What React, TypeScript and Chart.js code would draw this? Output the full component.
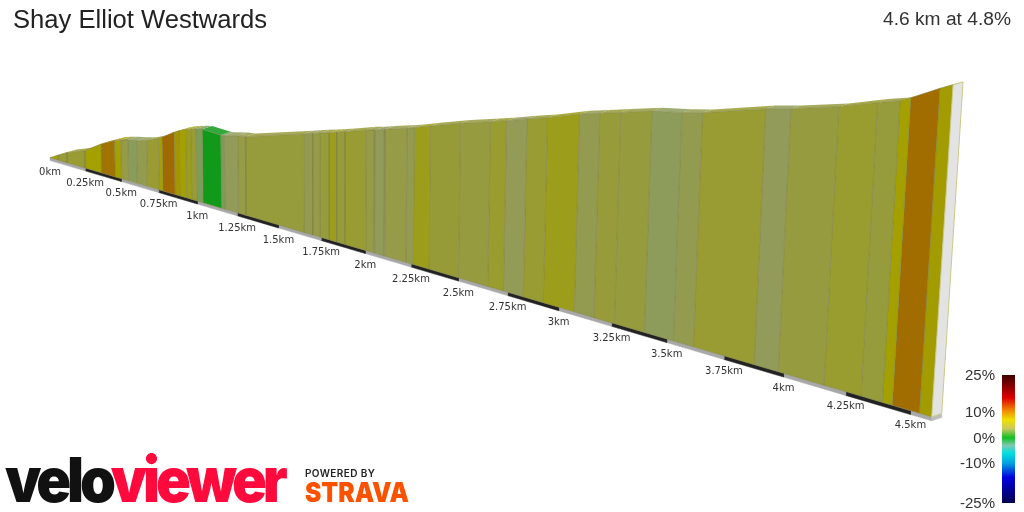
import React, { useEffect, useRef } from 'react';
import { Chart, registerables } from 'chart.js';

Chart.register(...registerables);

// segment boundaries along the climb
const km = [
  0, 0.06, 0.122, 0.249, 0.366, 0.459, 0.501, 0.55, 0.608, 0.676, 0.754, 0.778, 0.857, 0.889, 0.932, 0.965, 0.998, 1.037,
  1.153, 1.175, 1.258, 1.304, 1.651, 1.702, 1.744, 1.797, 1.839, 1.887, 2.003, 2.05, 2.105, 2.223, 2.262, 2.346, 2.5, 2.65,
  2.729, 2.828, 2.926, 3.075, 3.168, 3.263, 3.4, 3.53, 3.618, 3.878, 3.978, 4.164, 4.31, 4.393, 4.431, 4.534, 4.58,
];
// metres above the start at each boundary
const elevation = [
  0, 4.7, 9.2, 15.8, 26.2, 32.7, 34.8, 36.6, 38.2, 40.7, 45.6, 47.4, 54.7, 57.2, 59.7, 61.2, 62.6, 63.8,
  63.0, 63.3, 66.3, 67.1, 82.1, 84.4, 86.3, 88.4, 90.3, 92.5, 98.1, 99.8, 102.4, 107.4, 109.3, 113.7, 121.3, 127.9,
  131.5, 136.4, 140.8, 148.8, 152.7, 156.7, 162.5, 165.9, 168.9, 180.9, 184.4, 192.3, 200.3, 204.3, 207.6, 217.5, 221.2,
];
// percent gradient of each segment
const grade = [
  7, 5, 5, 7, 9.5, 7, 4, 2.5, 3.5, 5, 7, 10, 7.5, 7, 6, 5, 1.5, 0,
  1.5, 3, 4, 4.5, 3.5, 4, 4.5, 6, 4.5, 5, 4, 3, 4, 3.5, 6, 4.8, 4.3, 5.3,
  3.2, 5, 6, 3.5, 4.7, 4.4, 2.7, 3.5, 5, 3, 4.3, 5.3, 4.5, 7, 9.8, 7.2,
];
const tickKm = [0, 0.25, 0.5, 0.75, 1, 1.25, 1.5, 1.75, 2, 2.25, 2.5, 2.75, 3, 3.25, 3.5, 3.75, 4, 4.25, 4.5];
const tickLabels = tickKm.map((k) => `${k}km`);
const totalKm = 4.58;

const legendLabels = ['25%', '10%', '0%', '-10%', '-25%'];

// grade -> wall colour
const gradeStops: [number, number[]][] = [
  [0, [17, 154, 25]],
  [1.5, [122, 158, 90]],
  [3, [146, 155, 90]],
  [4.4, [150, 155, 62]],
  [5.5, [154, 156, 42]],
  [7, [163, 160, 0]],
  [8, [165, 140, 0]],
  [10, [160, 106, 0]],
];

const gradeColor = (g: number, alpha = 1) => {
  let i = 0;
  while (i < gradeStops.length - 2 && g > gradeStops[i + 1][0]) i++;
  const [g0, c0] = gradeStops[i];
  const [g1, c1] = gradeStops[i + 1];
  const t = Math.min(1, Math.max(0, (g - g0) / (g1 - g0)));
  const c = c0.map((v, n) => Math.round(v + (c1[n] - v) * t));
  return `rgba(${c[0]},${c[1]},${c[2]},${alpha})`;
};

// perspective of the 3D view
const depth = 0.0616;
const groundAt = (d: number) => {
  const u = (138.2 * d) / (1 - depth * d);
  return { x: 50 + u, y: 157.7 + 0.294 * u };
};
const project = (d: number, e: number) => {
  const g = groundAt(d);
  const h = (1.077 * e) / (1 - depth * d);
  return { x: g.x + h * (g.x - 330) * 1.07e-4, y: g.y - h };
};
const shift = (p: { x: number; y: number }, dx = 10, dy = -3.3) => ({ x: p.x + dx, y: p.y + dy });

const shape = (pts: { x: number; y: number }[], backgroundColor: string, borderColor: string, borderWidth = 1) => ({
  type: 'scatter' as const,
  data: [...pts, pts[0]],
  showLine: true,
  fill: 'shape',
  tension: 0,
  pointRadius: 0,
  backgroundColor,
  borderColor,
  borderWidth,
});

const buildDatasets = () => {
  const last = km.length - 1;
  const endTop = project(km[last], elevation[last]);
  const endBase = groundAt(km[last]);
  const thick = (d: number) => 2.8 / (1 - depth * d);

  const endFace = [
    shape([endBase, endTop, shift(endTop), shift(endBase)], '#e3e3e3', '#c9c98a'),
    shape(
      [endBase, { x: endBase.x, y: endBase.y + thick(totalKm) }, { x: endBase.x + 10, y: endBase.y - 3.3 + thick(totalKm) }, shift(endBase)],
      '#bdbdbd',
      '#bdbdbd',
      0.5,
    ),
  ];

  const walls = grade.map((g, i) =>
    shape(
      [groundAt(km[i]), project(km[i], elevation[i]), project(km[i + 1], elevation[i + 1]), groundAt(km[i + 1])],
      gradeColor(g),
      'rgba(130,130,70,0.5)',
    ),
  );

  const ribbons = grade.map((g, i) => {
    const a = project(km[i], elevation[i]);
    const b = project(km[i + 1], elevation[i + 1]);
    return shape([a, b, shift(b), shift(a)], gradeColor(g, 0.85), 'rgba(0,0,0,0)', 0);
  });

  const strips = tickKm.map((k, i) => {
    const next = i + 1 < tickKm.length ? tickKm[i + 1] : totalKm;
    const a = groundAt(k);
    const b = groundAt(next);
    const colour = i % 2 ? '#222222' : '#a8a8a8';
    return shape([a, b, { x: b.x, y: b.y + thick(next) }, { x: a.x, y: a.y + thick(k) }], colour, colour, 0.5);
  });

  // first in the list is drawn on top
  return [...endFace, ...walls, ...ribbons, ...strips];
};

const tickLabelPlugin = {
  id: 'tickLabels',
  afterDatasetsDraw(chart: Chart) {
    const { ctx, scales } = chart;
    ctx.save();
    ctx.font = '10px "DejaVu Sans"';
    ctx.fillStyle = '#333';
    ctx.textAlign = 'center';
    ctx.textBaseline = 'middle';
    tickKm.forEach((k, i) => {
      const g = groundAt(k);
      ctx.fillText(tickLabels[i], scales.x.getPixelForValue(g.x), scales.y.getPixelForValue(g.y + 15.2));
    });
    ctx.restore();
  },
};

const legendGradient = `linear-gradient(to bottom,
  #3d0000 0%, #8b0000 9%, #e00000 18%, #f08000 27%, #f0e000 35%, #c8c860 42%, #10c020 49%,
  #80c8b0 55%, #00e0e0 61%, #00a0e0 69%, #0000e0 80%, #000050 100%)`;
const legendTops = [366, 403, 429, 454, 494];

const App: React.FC = () => {
  const chartRef = useRef<HTMLCanvasElement>(null);

  useEffect(() => {
    if (!chartRef.current) return;
    const chart = new Chart(chartRef.current, {
      type: 'scatter',
      data: { datasets: buildDatasets() as any },
      options: {
        responsive: false,
        animation: false,
        events: [],
        layout: { padding: 0 },
        plugins: { legend: { display: false }, tooltip: { enabled: false } },
        scales: {
          x: { type: 'linear', display: false, min: 0, max: 1024 },
          y: { type: 'linear', display: false, min: 0, max: 512, reverse: true },
        },
      },
      plugins: [tickLabelPlugin],
    });
    return () => chart.destroy();
  }, []);

  const sans = '"Liberation Sans", Arial, sans-serif';
  return (
    <div style={{ position: 'fixed', left: 0, top: 0, width: 1024, height: 512, background: '#fff', overflow: 'hidden', fontFamily: sans }}>
      <canvas ref={chartRef} width={1024} height={512} style={{ position: 'absolute', left: 0, top: 0 }} />
      <div style={{ position: 'absolute', left: 13, top: 5, fontSize: 25.6, color: '#222', whiteSpace: 'nowrap' }}>Shay Elliot Westwards</div>
      <div style={{ position: 'absolute', right: 13, top: 8, fontSize: 19.2, color: '#333', whiteSpace: 'nowrap' }}>4.6 km at 4.8%</div>

      <div style={{ position: 'absolute', left: 1002, top: 375, width: 13, height: 128, background: legendGradient }} />
      {legendLabels.map((l, i) => (
        <div key={l} style={{ position: 'absolute', right: 29, top: legendTops[i], fontSize: 15, lineHeight: '18px', color: '#333' }}>{l}</div>
      ))}

      <div style={{ position: 'absolute', left: 5, top: 444, fontFamily: 'Inter', fontWeight: 900, fontSize: 62, lineHeight: '72px', letterSpacing: -4.5, whiteSpace: 'nowrap', transform: 'scaleX(0.93)', transformOrigin: 'left' }}>
        <span style={{ color: '#111' }}>velo</span>
        <span style={{ color: '#ff0a3c' }}>viewer</span>
      </div>
      <div style={{ position: 'absolute', left: 305, top: 467, fontFamily: 'Inter', fontWeight: 600, fontSize: 10, letterSpacing: 0.4, color: '#222', whiteSpace: 'nowrap' }}>POWERED BY</div>
      <div style={{ position: 'absolute', left: 305, top: 477, fontFamily: 'Inter', fontWeight: 900, fontSize: 27, lineHeight: '32px', color: '#fc5200', whiteSpace: 'nowrap', transform: 'scaleX(0.91)', transformOrigin: 'left' }}>STRAVA</div>
    </div>
  );
};

export default App;
